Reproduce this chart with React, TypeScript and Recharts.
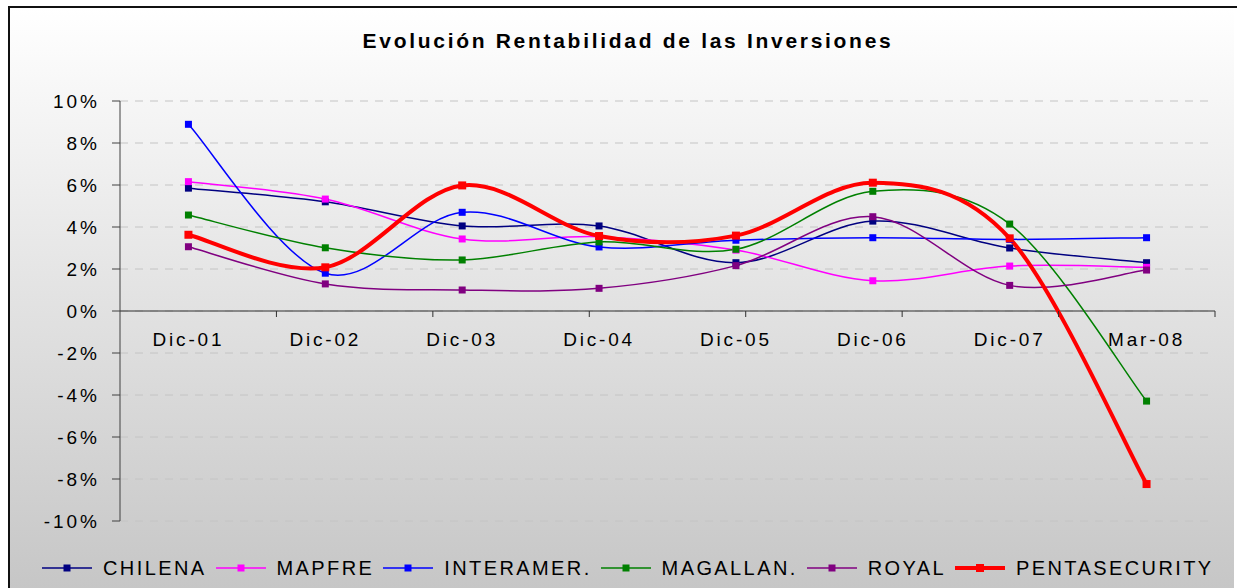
import React from 'react';
import { LineChart, Line, XAxis, YAxis, CartesianGrid, ReferenceLine, ReferenceDot } from 'recharts';

const categories = ['Dic-01', 'Dic-02', 'Dic-03', 'Dic-04', 'Dic-05', 'Dic-06', 'Dic-07', 'Mar-08'];
const chilena = [5.85, 5.2, 4.05, 4.05, 2.3, 4.28, 3.0, 2.3];
const mapfre = [6.16, 5.33, 3.43, 3.54, 2.9, 1.44, 2.14, 2.08];
const interamer = [8.89, 1.8, 4.7, 3.05, 3.37, 3.49, 3.41, 3.49];
const magallan = [4.57, 3.01, 2.43, 3.29, 2.94, 5.7, 4.14, -4.29];
const royal = [3.06, 1.29, 1.0, 1.08, 2.16, 4.49, 1.22, 1.95];
const pentasecurity = [3.63, 2.08, 5.98, 3.57, 3.59, 6.11, 3.46, -8.24];
const yTicks = [-10, -8, -6, -4, -2, 0, 2, 4, 6, 8, 10];

const series = [
  { key: 'chilena', name: 'CHILENA', values: chilena, color: '#000080', width: 1.5, marker: 7 },
  { key: 'mapfre', name: 'MAPFRE', values: mapfre, color: '#FF00FF', width: 1.5, marker: 7 },
  { key: 'interamer', name: 'INTERAMER.', values: interamer, color: '#0000FF', width: 1.5, marker: 7 },
  { key: 'magallan', name: 'MAGALLAN.', values: magallan, color: '#008000', width: 1.5, marker: 7 },
  { key: 'royal', name: 'ROYAL', values: royal, color: '#800080', width: 1.5, marker: 7 },
  { key: 'penta', name: 'PENTASECURITY', values: pentasecurity, color: '#FF0000', width: 4, marker: 8 },
];

const data = categories.map((cat, i) => {
  const row: Record<string, string | number> = { cat };
  series.forEach((s) => { row[s.key] = s.values[i]; });
  return row;
});

const FONT = '"Liberation Sans", Arial, sans-serif';

// Excel-like smoothed line (Catmull-Rom through the points)
const smoothCurve = (context: any) => {
  let pts: number[][] = [];
  return {
    areaStart() {},
    areaEnd() {},
    lineStart() { pts = []; },
    point(x: number, y: number) { pts.push([x, y]); },
    lineEnd() {
      if (!pts.length) return;
      context.moveTo(pts[0][0], pts[0][1]);
      for (let i = 0; i < pts.length - 1; i++) {
        const p0 = pts[Math.max(i - 1, 0)];
        const p1 = pts[i];
        const p2 = pts[i + 1];
        const p3 = pts[Math.min(i + 2, pts.length - 1)];
        context.bezierCurveTo(
          p1[0] + (p2[0] - p0[0]) / 6, p1[1] + (p2[1] - p0[1]) / 6,
          p2[0] - (p3[0] - p1[0]) / 6, p2[1] - (p3[1] - p1[1]) / 6,
          p2[0], p2[1],
        );
      }
    },
  };
};

const YTick = (props: any) => {
  const { x, y, payload } = props;
  return (
    <text x={x} y={y} textAnchor="end" dominantBaseline="central" fill="#000"
      style={{ fontFamily: FONT, fontSize: 19, letterSpacing: 3 }}>
      {`${payload.value}%`}
    </text>
  );
};

const App: React.FC = () => {
  return (
    <div style={{ position: 'relative', width: 1237, height: 588, overflow: 'hidden' }}>
      <style>{'body{margin:0;overflow:hidden;}'}</style>
      <div style={{ position: 'absolute', left: 8, top: 6, width: 1229, height: 600, borderTop: '2px solid #111', borderLeft: '2px solid #111', background: '#fff' }}>
        <div style={{ width: 1224, height: 600, background: 'linear-gradient(#ffffff 0%, #c6c6c6 97%)' }} />
      </div>

      <div style={{ position: 'absolute', left: 0, top: 29, width: 1256, textAlign: 'center', fontFamily: FONT, fontWeight: 'bold', fontSize: 21, letterSpacing: 2.7, color: '#000' }}>
        Evolución Rentabilidad de las Inversiones
      </div>

      <div style={{ position: 'absolute', left: 0, top: 0 }}>
        <LineChart width={1237} height={588} data={data} margin={{ top: 101, right: 22, bottom: 67, left: 0 }}>
          <CartesianGrid vertical={false} strokeDasharray="8 7" stroke="#c4c4c4" />
          <XAxis dataKey="cat" scale="band" hide />
          <XAxis xAxisId="edge" type="number" domain={[0, categories.length]} hide />
          <YAxis domain={[-10, 10]} ticks={yTicks} width={120} tickSize={8} tickMargin={12}
            axisLine={{ stroke: '#404040' }} tickLine={{ stroke: '#404040' }} tick={<YTick />} interval={0} />
          <ReferenceLine y={0} stroke="#303030" strokeWidth={1.2} />
          {categories.map((_, i) => (
            <ReferenceDot key={`edge-${i}`} xAxisId="edge" x={i + 1} y={0} r={0}
              shape={(p: any) => <line x1={p.cx} y1={p.cy} x2={p.cx} y2={p.cy + 6} stroke="#303030" strokeWidth={1} />} />
          ))}
          {categories.map((cat) => (
            <ReferenceDot key={`lab-${cat}`} x={cat} y={0} r={0}
              shape={(p: any) => (
                <text x={p.cx} y={p.cy + 28} textAnchor="middle" dominantBaseline="central" fill="#000"
                  style={{ fontFamily: FONT, fontSize: 19, letterSpacing: 2.8 }}>{cat}</text>
              )} />
          ))}
          {series.map((s) => (
            <Line key={s.key} dataKey={s.key} name={s.name} type={smoothCurve as any} stroke={s.color}
              strokeWidth={s.width} isAnimationActive={false} activeDot={false}
              dot={(p: any) => (
                <rect key={`${s.key}-${p.index}`} x={p.cx - s.marker / 2} y={p.cy - s.marker / 2}
                  width={s.marker} height={s.marker} fill={s.color} />
              )} />
          ))}
        </LineChart>
      </div>

      <div style={{ position: 'absolute', left: 42, top: 558, height: 20, display: 'flex', alignItems: 'center', fontFamily: FONT, fontSize: 20, letterSpacing: 2.4, color: '#000' }}>
        {series.map((s) => (
          <div key={s.key} style={{ display: 'flex', alignItems: 'center', marginRight: 9 }}>
            <svg width={50} height={10} style={{ marginRight: 11 }}>
              <line x1={0} y1={5} x2={50} y2={5} stroke={s.color} strokeWidth={s.width === 4 ? 4 : 1.5} />
              <rect x={25 - s.marker / 2} y={5 - s.marker / 2} width={s.marker} height={s.marker} fill={s.color} />
            </svg>
            <span style={{ lineHeight: '20px', whiteSpace: 'nowrap' }}>{s.name}</span>
          </div>
        ))}
      </div>
    </div>
  );
};

export default App;
